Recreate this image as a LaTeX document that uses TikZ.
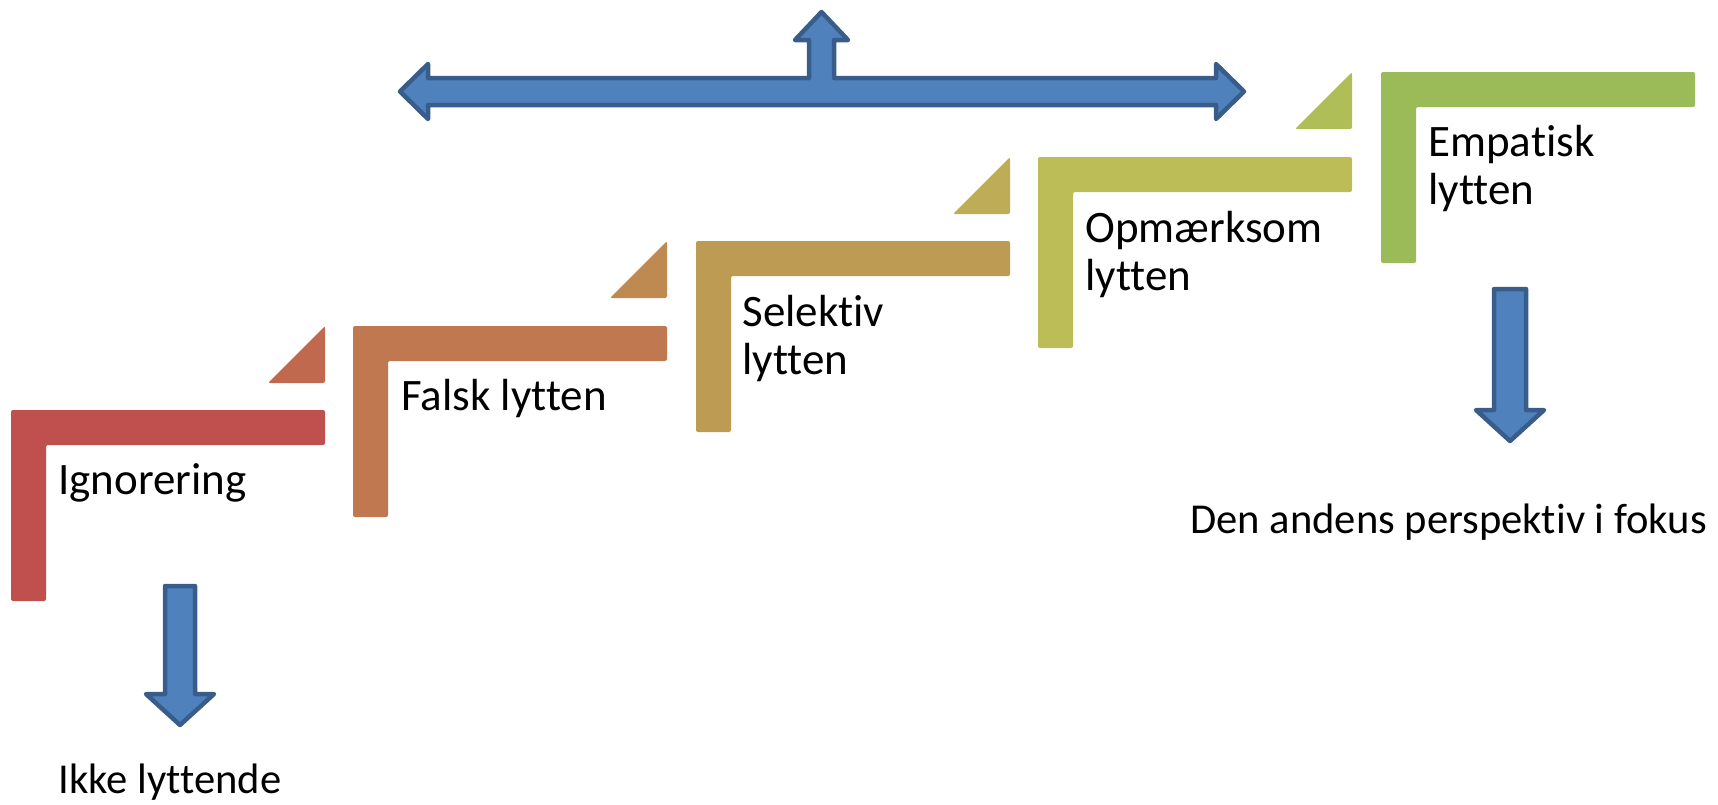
\documentclass[tikz,border=0pt]{standalone}
\usepackage{fontspec}
\setmainfont{Carlito}[Ligatures=NoCommon]
\definecolor{stepA}{HTML}{C0504D}
\definecolor{stepB}{HTML}{C07850}
\definecolor{stepC}{HTML}{BE9B53}
\definecolor{stepD}{HTML}{BCBD56}
\definecolor{stepE}{HTML}{9BBB59}
\definecolor{triA}{HTML}{C0694E}
\definecolor{triB}{HTML}{BF8952}
\definecolor{triC}{HTML}{BEAC56}
\definecolor{triD}{HTML}{B0BE58}
\definecolor{arrowblue}{HTML}{4F81BD}
\definecolor{arrowborder}{HTML}{385D8A}
\begin{document}
\begin{tikzpicture}[x=0.5pt,y=-0.5pt,
  stepshape/.style={rounded corners=1pt},
  arrowshape/.style={fill=arrowblue, draw=arrowborder, line width=2.25pt, line join=round},
  lbl/.style={font=\fontsize{22.5}{24}\selectfont, inner sep=0pt, anchor=base west, align=left},
  lblb/.style={font=\fontsize{21.3}{24}\selectfont, inner sep=0pt, anchor=base west}]
\useasboundingbox (0,0) rectangle (1718,804);
% steps
\foreach \L/\T/\c in {11/410/stepA, 353/326/stepB, 696/241/stepC, 1038/157/stepD, 1381/72/stepE}{
  \fill[stepshape, fill=\c] (\L,\T) -- ++(314,0) -- ++(0,35) -- ++(-279,0) -- ++(0,156) -- ++(-35,0) -- cycle;
}
% triangles
\foreach \R/\T/\c in {325/326/triA, 667/241/triB, 1010/157/triC, 1352/72/triD}{
  \fill[stepshape, fill=\c] (\R,\T) -- ++(0,57) -- ++(-57,0) -- cycle;
}
% top arrow
\draw[arrowshape] (400,91.5) -- (428,64) -- (428,78) -- (809,78) -- (809,40) -- (795,40) -- (821.5,12)
  -- (848,40) -- (834,40) -- (834,78) -- (1216,78) -- (1216,64) -- (1244,91.5) -- (1216,119)
  -- (1216,105) -- (428,105) -- (428,119) -- cycle;
% down arrows
\draw[arrowshape] (165,586) -- (195,586) -- (195,694) -- (214,694) -- (180,725) -- (146,694) -- (165,694) -- cycle;
\draw[arrowshape] (1494,289) -- (1526,289) -- (1526,410) -- (1544,410) -- (1510,441) -- (1476,410) -- (1494,410) -- cycle;
% labels (multi-line nodes: base anchor is the last line's baseline)
\node[lbl] (ign) at (58,494) {Ignorering};
\node[lbl] (fal) at (401,410) {Falsk lytten};
\node[lbl] (sel) at (742,374) {Selektiv\\lytten};
\node[lbl] (opm) at (1085,290) {Opmærksom\\lytten};
\node[lbl] (emp) at (1428,204) {Empatisk\\lytten};
\node[lblb] (ikke) at (58,793) {Ikke lyttende};
\node[lblb] (den) at (1190,533) {Den andens perspektiv i fokus};
\end{tikzpicture}
\end{document}
